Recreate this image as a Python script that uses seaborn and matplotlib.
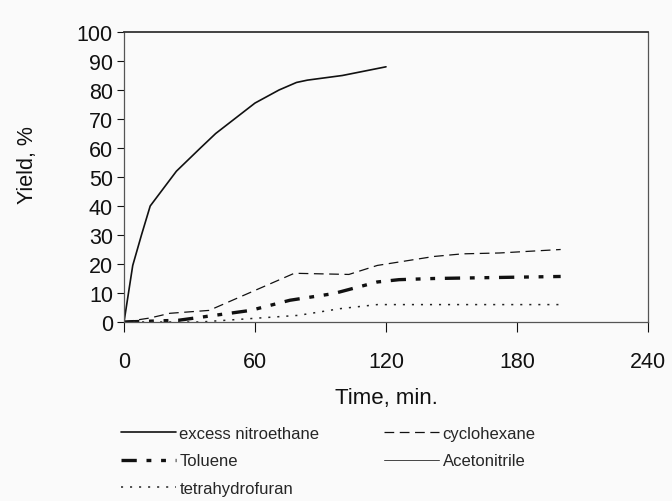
import matplotlib
matplotlib.use("Agg")
import matplotlib.pyplot as plt
import seaborn as sns
import pandas as pd

# ---- data ----
nitro_t = [0, 4, 8, 12, 20, 24, 35, 42, 60, 71, 79, 84, 100, 120]
nitro_y = [0, 19.5, 30, 40, 48, 52, 60, 65, 75.5, 80, 82.6, 83.4, 85, 88]

cyclo_t = [0, 12, 21, 39, 78, 103, 116, 142, 155, 172, 200]
cyclo_y = [0, 1.4, 3, 4, 16.8, 16.4, 19.5, 22.6, 23.5, 23.8, 25]

tol_t = [0, 25, 58, 76, 96, 116, 126, 142, 200]
tol_y = [0, 0.6, 4, 7.5, 9.8, 13.8, 14.6, 15, 15.7]

thf_t = [0, 35, 80, 99, 116, 200]
thf_y = [0, 0, 2.3, 4.6, 6, 6]

aceto_t = [0, 200]
aceto_y = [0, 0]

x_ticks = [0, 60, 120, 180, 240]
y_ticks = [0, 10, 20, 30, 40, 50, 60, 70, 80, 90, 100]

sns.set_theme(style="white")
plt.rcParams["font.family"] = ["Liberation Sans", "DejaVu Sans"]
plt.rcParams["lines.scale_dashes"] = False

bg = "#fafafa"
fig = plt.figure(figsize=(6.72, 5.02), dpi=100, facecolor=bg)
ax = fig.add_axes([124 / 672, 1 - 323 / 502, 524 / 672, 290 / 502])
ax.set_facecolor(bg)

series = [
    ("excess nitroethane", nitro_t, nitro_y, dict(color="#111111", lw=1.2, ls="-")),
    ("Toluene", tol_t, tol_y, dict(color="#111111", lw=2.4, ls=(0, (11, 7, 3.5, 7, 3.5, 7)))),
    ("tetrahydrofuran", thf_t, thf_y, dict(color="#222222", lw=1.1, ls=(0, (1.5, 5)))),
    ("cyclohexane", cyclo_t, cyclo_y, dict(color="#111111", lw=0.9, ls=(0, (7, 4)))),
    ("Acetonitrile", aceto_t, aceto_y, dict(color="#444444", lw=0.7, ls="-")),
]

handles = []
for name, t, y, st in series:
    df = pd.DataFrame({"t": t, "y": y})
    sns.lineplot(data=df, x="t", y="y", ax=ax, color=st["color"], linewidth=st["lw"],
                 linestyle=st["ls"], label=name, legend=False)
    handles.append(ax.lines[-1])

ax.set_xlim(0, 240)
ax.set_ylim(0, 100)
ax.set_xticks(x_ticks)
ax.set_yticks(y_ticks)
ax.tick_params(axis="both", labelsize=15.5, colors="#111111", length=5, width=0.8,
               direction="out", left=True, bottom=True)
ax.tick_params(axis="x", pad=14, length=7)
ax.tick_params(axis="y", pad=3)

for side, sp in ax.spines.items():
    sp.set_visible(True)
    sp.set_color("#555555")
    sp.set_linewidth(0.9)
ax.spines["top"].set_color("#333333")
ax.spines["top"].set_linewidth(1.3)

ax.set_xlabel("Time, min.", fontsize=16, color="#111111")
ax.set_ylabel("Yield, %", fontsize=15.5, color="#111111")
ax.xaxis.set_label_coords(0.5, -0.225)
ax.yaxis.set_label_coords(-0.164, 0.545)

fig.legend(handles=handles, labels=[s[0] for s in series], ncol=2,
           loc="upper left", bbox_to_anchor=(121 / 672, 1 - 427 / 502),
           frameon=False, fontsize=12, handlelength=3.3, handletextpad=0.2,
           columnspacing=3.9, labelspacing=0.74, borderpad=0, borderaxespad=0)

fig.savefig("out.png", dpi=100, facecolor=bg)
